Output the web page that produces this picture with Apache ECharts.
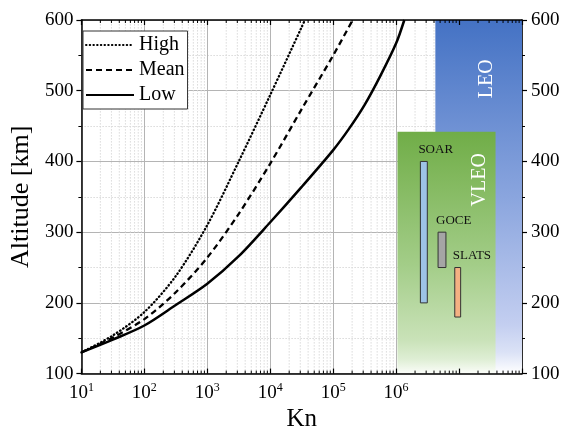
<!DOCTYPE html>
<html>
<head>
<meta charset="utf-8">
<script src="https://cdn.jsdelivr.net/npm/echarts@6/dist/echarts.min.js"></script>
<style>
  html, body { margin: 0; padding: 0; background: #fff; }
  #chart { width: 566px; height: 437px; }
</style>
</head>
<body>
<div id="chart"></div>
<script>
// Kn 与高度数据
const lowKn = [10, 31.6, 100, 316, 1000, 3160, 1e4, 3.16e4, 1e5, 1.78e5, 3.16e5, 5.62e5, 1e6, 1.35e6];
const lowAlt = [130, 148, 168, 197, 227, 266, 314, 364, 416, 446, 480, 521, 567, 600];

const meanKn = [10, 31.6, 100, 316, 1000, 3160, 1e4, 3.16e4, 1e5, 2.04e5];
const meanAlt = [130, 151, 177, 215, 264, 326, 397, 474, 550, 600];

const highKn = [10, 31.6, 100, 316, 1000, 3160, 1e4, 3.16e4, 35500];
const highAlt = [130, 154, 187, 238, 310, 400, 494, 590, 600];

// 任务高度范围
const missionNames = ["SOAR", "GOCE", "SLATS"];
const missionLow = [200, 250, 180];
const missionHigh = [400, 300, 250];

// 轨道区域（先画 LEO，再画 VLEO）
const zoneNames = ["LEO", "VLEO"];
const zoneLow = [100, 100];
const zoneHigh = [600, 442];

const yTicks = [100, 200, 300, 400, 500, 600];
const xExpLabels = [1, 2, 3, 4, 5, 6];

// 版式（位置、颜色）
const FONT = "Liberation Serif";
const missionX = [[2.43e6, 3.13e6], [4.64e6, 6.19e6], [8.55e6, 1.06e7]];
const missionColor = ["#9dc3e6", "#a5a5a5", "#f4b183"];
const zoneX = [[4.2e6, 1e8], [1.05e6, 3.8e7]];
const zoneLabelAt = [[2.8e7, 517], [2.1e7, 374]];
const zoneStops = [
  [[0, "#4472c4"], [0.5, "#8aa5de"], [0.86, "#c3cef0"], [0.94, "#dbe2f6"], [1, "#ffffff"]],
  [[0, "#70ad47"], [0.55, "#a3cd88"], [0.86, "#c9e2b8"], [0.94, "#deeed4"], [1, "#fbfdf9"]],
];

const minorKn = [];
for (let k = 1; k < 8; k++) {
  for (let m = 2; m <= 9; m++) minorKn.push([m * Math.pow(10, k), 100, 600]);
}

function pairs(xs, ys) {
  return xs.map((x, i) => [x, ys[i]]);
}

const chart = echarts.init(document.getElementById("chart"));

chart.setOption({
  animation: false,
  grid: { left: 74, right: 44, top: 20, bottom: 57 },
  legend: {
    left: 83,
    top: 31,
    orient: "vertical",
    data: ["High", "Mean", "Low"],
    itemWidth: 48,
    itemHeight: 14,
    itemGap: 5,
    padding: [4, 3, 4, 2],
    borderColor: "#333",
    borderWidth: 1,
    backgroundColor: "#fff",
    itemStyle: { color: "rgba(0,0,0,0)", borderWidth: 0, opacity: 0 },
    textStyle: { fontFamily: FONT, fontSize: 20, color: "#000" },
    z: 12,
  },
  xAxis: [
    {
      type: "log",
      logBase: 10,
      min: 10,
      max: 1e8,
      splitNumber: 7,
      axisLine: { show: false },
      axisTick: { show: false },
      axisLabel: { show: false },
      splitLine: { show: true, lineStyle: { color: "#b4b4b4", width: 1 } },
    },
    {
      type: "log",
      logBase: 10,
      min: 10,
      max: 1e8,
      splitNumber: 7,
      position: "bottom",
      z: 10,
      name: "Kn",
      nameLocation: "middle",
      nameGap: 33,
      nameTextStyle: { fontFamily: FONT, fontSize: 25, color: "#000" },
      axisLine: { show: true, lineStyle: { color: "#000", width: 1.5 } },
      axisTick: { show: true, inside: true, length: 5, lineStyle: { color: "#000", width: 1.2 } },
      splitLine: { show: false },
      axisLabel: {
        margin: 8,
        formatter: function (v) {
          const e = Math.round(Math.log10(v));
          return xExpLabels.indexOf(e) >= 0 ? "{b|10}{s|" + e + "}" : "";
        },
        rich: {
          b: { fontFamily: FONT, fontSize: 19, color: "#000", lineHeight: 22 },
          s: { fontFamily: FONT, fontSize: 12, color: "#000", lineHeight: 12, verticalAlign: "top" },
        },
      },
    },
    {
      type: "log",
      logBase: 10,
      min: 10,
      max: 1e8,
      splitNumber: 7,
      position: "top",
      z: 10,
      axisLine: { show: true, lineStyle: { color: "#000", width: 1.5 } },
      axisTick: { show: true, inside: true, length: 5, lineStyle: { color: "#000", width: 1.2 } },
      axisLabel: { show: false },
      splitLine: { show: false },
    },
  ],
  yAxis: [
    {
      type: "value",
      min: 100,
      max: 600,
      interval: 100,
      name: "Altitude [km]",
      nameLocation: "middle",
      nameGap: 42,
      nameTextStyle: { fontFamily: FONT, fontSize: 26, color: "#000" },
      axisLine: { show: true, lineStyle: { color: "#000", width: 1.5 } },
      axisTick: { show: true, inside: false, length: 5, lineStyle: { color: "#000", width: 1.2 } },
      minorTick: { show: true, splitNumber: 2, length: 3, lineStyle: { color: "#000", width: 1 } },
      splitLine: { show: true, lineStyle: { color: "#b4b4b4", width: 1 } },
      minorSplitLine: { show: true, lineStyle: { color: "#dadada", width: 1, type: [1.5, 1.5] } },
      axisLabel: {
        margin: 8,
        fontFamily: FONT,
        fontSize: 19,
        color: "#000",
        formatter: (v) => (yTicks.indexOf(v) >= 0 ? String(v) : ""),
      },
    },
    {
      type: "value",
      min: 100,
      max: 600,
      interval: 100,
      position: "right",
      axisLine: { show: true, lineStyle: { color: "#000", width: 1.5 } },
      axisTick: { show: true, inside: false, length: 5, lineStyle: { color: "#000", width: 1.2 } },
      minorTick: { show: true, splitNumber: 2, length: 3, lineStyle: { color: "#000", width: 1 } },
      splitLine: { show: false },
      axisLabel: {
        margin: 9,
        fontFamily: FONT,
        fontSize: 19,
        color: "#000",
        formatter: (v) => (yTicks.indexOf(v) >= 0 ? String(v) : ""),
      },
    },
  ],
  series: [
    {
      name: "minorGrid",
      type: "custom",
      z: 1,
      silent: true,
      data: minorKn,
      renderItem: function (params, api) {
        const p0 = api.coord([api.value(0), api.value(1)]);
        const p1 = api.coord([api.value(0), api.value(2)]);
        return {
          type: "line",
          shape: { x1: p0[0], y1: p0[1], x2: p1[0], y2: p1[1] },
          style: { stroke: "#dadada", lineWidth: 1, lineDash: [1.5, 1.5] },
        };
      },
    },
    {
      name: "zones",
      type: "custom",
      z: 2,
      silent: true,
      data: zoneNames.map((n, i) => [zoneX[i][0], zoneX[i][1], zoneLow[i], zoneHigh[i]]),
      renderItem: function (params, api) {
        const i = params.dataIndex;
        const a = api.coord([api.value(0), api.value(3)]);
        const b = api.coord([api.value(1), api.value(2)]);
        const t = api.coord(zoneLabelAt[i]);
        return {
          type: "group",
          children: [
            {
              type: "rect",
              shape: { x: a[0], y: a[1], width: b[0] - a[0], height: b[1] - a[1] },
              style: {
                fill: new echarts.graphic.LinearGradient(0, 0, 0, 1,
                  zoneStops[i].map((s) => ({ offset: s[0], color: s[1] }))),
              },
            },
            {
              type: "text",
              x: t[0],
              y: t[1],
              rotation: Math.PI / 2,
              style: {
                text: zoneNames[i],
                fill: "#fff",
                font: "20px '" + FONT + "'",
                align: "center",
                verticalAlign: "middle",
              },
            },
          ],
        };
      },
    },
    {
      name: "missions",
      type: "custom",
      z: 3,
      silent: true,
      data: missionNames.map((n, i) => [missionX[i][0], missionX[i][1], missionLow[i], missionHigh[i]]),
      renderItem: function (params, api) {
        const i = params.dataIndex;
        const a = api.coord([api.value(0), api.value(3)]);
        const b = api.coord([api.value(1), api.value(2)]);
        return {
          type: "group",
          children: [
            {
              type: "rect",
              shape: { x: a[0], y: a[1], width: b[0] - a[0], height: b[1] - a[1] },
              style: { fill: missionColor[i], stroke: "#333", lineWidth: 1 },
            },
            {
              type: "text",
              x: a[0] - 2,
              y: a[1] - 5,
              style: {
                text: missionNames[i],
                fill: "#111",
                font: "13px '" + FONT + "'",
                align: "left",
                verticalAlign: "bottom",
              },
            },
          ],
        };
      },
    },
    {
      name: "High",
      type: "line",
      z: 5,
      data: pairs(highKn, highAlt),
      symbol: "none",
      smooth: 0.3,
      color: "#000",
      lineStyle: { color: "#000", width: 2.3, type: [0.5, 3.2], cap: "round" },
    },
    {
      name: "Mean",
      type: "line",
      z: 5,
      data: pairs(meanKn, meanAlt),
      symbol: "none",
      smooth: 0.3,
      color: "#000",
      lineStyle: { color: "#000", width: 2.3, type: [6, 4] },
    },
    {
      name: "Low",
      type: "line",
      z: 5,
      data: pairs(lowKn, lowAlt),
      symbol: "none",
      smooth: 0.3,
      color: "#000",
      lineStyle: { color: "#000", width: 2.5 },
    },
    {
      name: "minorTicks",
      type: "custom",
      z: 11,
      silent: true,
      clip: false,
      data: minorKn,
      renderItem: function (params, api) {
        const p0 = api.coord([api.value(0), api.value(1)]);
        const p1 = api.coord([api.value(0), api.value(2)]);
        const st = { stroke: "#000", lineWidth: 1 };
        return {
          type: "group",
          children: [
            { type: "line", shape: { x1: p0[0], y1: p0[1], x2: p0[0], y2: p0[1] - 3 }, style: st },
            { type: "line", shape: { x1: p1[0], y1: p1[1], x2: p1[0], y2: p1[1] + 3 }, style: st },
          ],
        };
      },
    },
  ],
});
</script>
</body>
</html>
